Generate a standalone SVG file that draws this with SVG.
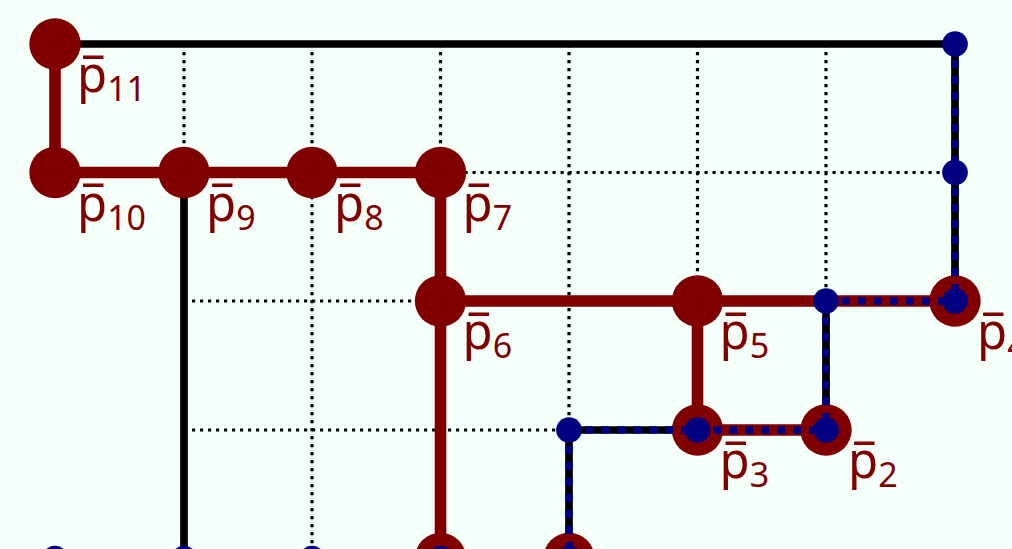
<svg xmlns="http://www.w3.org/2000/svg" width="1012" height="549" viewBox="0 0 1012 549">
<style>
.grid{stroke:#000;stroke-width:3.2;stroke-dasharray:3.2 4.8;fill:none}
.blk{stroke:#000;stroke-width:7.7;fill:none}
.red{stroke:#800000;stroke-width:11.6;fill:none}
.nav{stroke:#000080;stroke-width:7.7;stroke-dasharray:8 8;fill:none}
.big{fill:#800000}
.small{fill:#000080}
.lbl{font-family:"Noto Sans","Open Sans",sans-serif;font-size:49px;fill:#800000}
.sub{font-size:34px}
</style>
<rect width="1012" height="549" fill="#f5fffa"/>
<g id="connectors">
<g id="grid">
<path class="grid" d="M184,44V172 M312,44V559 M440.5,44V172 M569,44V430 M697.5,44V301 M826,44V301 M440.5,172.5H955 M184,301H440.5 M184,430H569"/>
</g>
<g id="black">
<path class="blk" d="M55,44H955 M955,44V301 M184,172.5V559 M826,301V430 M569,430H697.5 M569,430V559"/>
</g>
<g id="redpath">
<path class="red" d="M55,44V172.5H440.5V301H955 M697.5,301V430H826 M440.5,301V559"/>
</g>
</g>
<g id="n11"><circle class="big" cx="55" cy="44" r="25.7"/><text class="lbl" x="77" y="92">p&#x305;<tspan class="sub" dy="9">11</tspan></text></g>
<g id="n10"><circle class="big" cx="55" cy="172.5" r="25.7"/><text class="lbl" x="77" y="220.5">p&#x305;<tspan class="sub" dy="9">10</tspan></text></g>
<g id="n9"><circle class="big" cx="184" cy="172.5" r="25.7"/><text class="lbl" x="206" y="220.5">p&#x305;<tspan class="sub" dy="9">9</tspan></text></g>
<g id="n8"><circle class="big" cx="312" cy="172.5" r="25.7"/><text class="lbl" x="334" y="220.5">p&#x305;<tspan class="sub" dy="9">8</tspan></text></g>
<g id="n7"><circle class="big" cx="440.5" cy="172.5" r="25.7"/><text class="lbl" x="462.5" y="220.5">p&#x305;<tspan class="sub" dy="9">7</tspan></text></g>
<g id="n6"><circle class="big" cx="440.5" cy="301" r="25.7"/><text class="lbl" x="462.5" y="349">p&#x305;<tspan class="sub" dy="9">6</tspan></text></g>
<g id="n5"><circle class="big" cx="697.5" cy="301" r="25.7"/><text class="lbl" x="719.5" y="349">p&#x305;<tspan class="sub" dy="9">5</tspan></text></g>
<g id="n4"><circle class="big" cx="955" cy="301" r="25.7"/><text class="lbl" x="977" y="349">p&#x305;<tspan class="sub" dy="9">4</tspan></text></g>
<g id="n3"><circle class="big" cx="697.5" cy="430" r="25.7"/><text class="lbl" x="719.5" y="478">p&#x305;<tspan class="sub" dy="9">3</tspan></text></g>
<g id="n2"><circle class="big" cx="826" cy="430" r="25.7"/><text class="lbl" x="848" y="478">p&#x305;<tspan class="sub" dy="9">2</tspan></text></g>
<g id="b440"><circle class="big" cx="440.5" cy="558.5" r="25.7"/></g>
<g id="b569"><circle class="big" cx="569" cy="558.5" r="25.7"/></g>
<g id="navydash">
<path class="nav" d="M955,44V301 M826,301H955 M826,301V430 M569,430H826 M569,430V559"/>
</g>
<g id="q-top"><circle class="small" cx="955" cy="44" r="12.85"/></g>
<g id="q-mid"><circle class="small" cx="955" cy="172.5" r="12.85"/></g>
<g id="q4"><circle class="small" cx="955" cy="301" r="12.85"/></g>
<g id="q-826"><circle class="small" cx="826" cy="301" r="12.85"/></g>
<g id="q2"><circle class="small" cx="826" cy="430" r="12.85"/></g>
<g id="q3"><circle class="small" cx="697.5" cy="430" r="12.85"/></g>
<g id="q-569"><circle class="small" cx="569" cy="430" r="12.85"/></g>
<g id="q-b55"><circle class="small" cx="55" cy="558.5" r="12.85"/></g>
<g id="q-b184"><circle class="small" cx="184" cy="558.5" r="12.85"/></g>
<g id="q-b312"><circle class="small" cx="312" cy="558.5" r="12.85"/></g>
<g id="q-b440"><circle class="small" cx="440.5" cy="558.5" r="12.85"/></g>
<g id="q-b569"><circle class="small" cx="569" cy="558.5" r="12.85"/></g>
</svg>
